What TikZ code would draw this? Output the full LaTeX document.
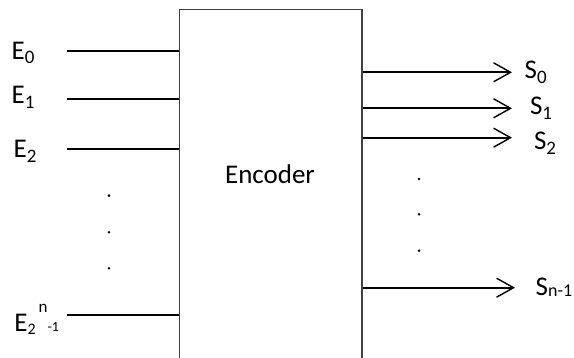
\documentclass[tikz,border=0pt]{standalone}
\usepackage{fontspec}
\setmainfont{Carlito}
\usetikzlibrary{arrows.meta}
% lowered index in a smaller size: #1 drop, #2 size, #3 text
\newcommand\idx[3]{\raisebox{#1}{\fontsize{#2}{#2}\selectfont #3}}
\begin{document}
\begin{tikzpicture}[x=1pt,y=-1pt,
  wire/.style={line width=1.7pt, black},
  outwire/.style={wire, -{Straight Barb[length=17pt,width=19pt,line width=1.4pt]}},
  lbl/.style={anchor=base west, inner sep=0pt, font=\fontsize{27}{30}\selectfont},
  dotmark/.style={circle, fill=black, inner sep=0pt, minimum size=2.9pt},
  ]
\useasboundingbox (0,0) rectangle (574,358);
\clip (0,0) rectangle (574,358);

% the encoder block, running off the lower edge
\node[draw=black!75, line width=1.5pt, minimum width=182.5pt, minimum height=380pt,
      inner sep=0pt, anchor=north west] (box) at (178.5,9) {};
\node[lbl, anchor=base] (enc) at (270,183.3) {Encoder};

% inputs
\coordinate (i0) at (66.7,51);
\coordinate (i1) at (66.7,98.7);
\coordinate (i2) at (66.7,149.3);
\coordinate (in) at (66.7,315);
\foreach \c in {i0,i1,i2,in}
  \draw[wire] (\c) -- (\c -| box.west);

\node[lbl] (e0) at (11.5,59.3) {E\idx{-4.5pt}{19}{0}};
\node[lbl] (e1) at (11.5,104) {E\idx{-4.5pt}{19}{1}};
\node[lbl] (e2) at (13.5,158) {E\idx{-4.5pt}{19}{2}};
\node[lbl] (en) at (14.2,331.7) {E\idx{-2.5pt}{16}{2}\kern3pt\idx{18.7pt}{17}{n}\idx{0pt}{14}{-1}};

\node[dotmark] (ld1) at (109,195.7) {};
\node[dotmark] (ld2) at (109,232.3) {};
\node[dotmark] (ld3) at (109,268.3) {};

% outputs
\coordinate (o0) at (512,72.3);
\coordinate (o1) at (512,108.3);
\coordinate (o2) at (512,137.7);
\coordinate (on) at (515,287.7);
\foreach \c in {o0,o1,o2,on}
  \draw[outwire] (\c -| box.east) -- (\c);

\node[lbl] (s0) at (524.5,79) {S\idx{-5pt}{19}{0}};
\node[lbl] (s1) at (529.8,115) {S\idx{-5pt}{19}{1}};
\node[lbl] (s2) at (533.8,150) {S\idx{-5pt}{19}{2}};
\node[lbl] (sn) at (535.5,295.7) {S\idx{-1.3pt}{18}{n-1}};

\node[dotmark] (rd1) at (419,179) {};
\node[dotmark] (rd2) at (419,214.3) {};
\node[dotmark] (rd3) at (419,250.7) {};
\end{tikzpicture}
\end{document}
